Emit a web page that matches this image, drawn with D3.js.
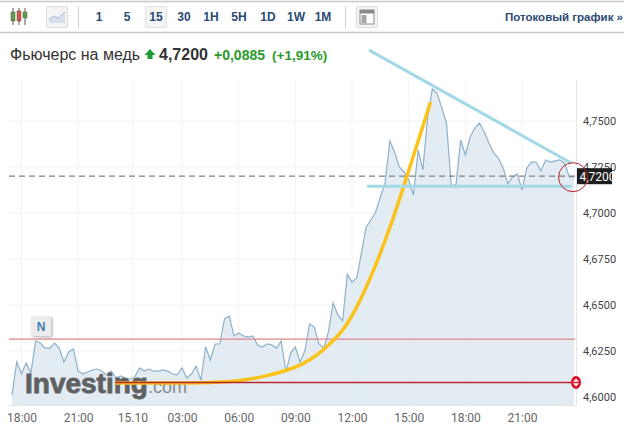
<!DOCTYPE html>
<html>
<head>
<meta charset="utf-8">
<script src="https://cdnjs.cloudflare.com/ajax/libs/d3/7.8.5/d3.min.js"></script>
<style>
  html, body { margin: 0; padding: 0; background: #fff; }
  svg { display: block; font-family: "Liberation Sans", Arial, sans-serif; }
  .tick text { font-family: Roboto, sans-serif; }
</style>
</head>
<body>
<div id="chart"></div>
<script>
// copper price, one value per 15 min bar
const prices = [
  4.6011, 4.6190, 4.6125, 4.6185, 4.6130, 4.6304, 4.6293, 4.6266, 4.6266, 4.6293,
  4.6266, 4.6190, 4.6245, 4.6261, 4.6141, 4.6125, 4.6136, 4.6147, 4.6152, 4.6141,
  4.6120, 4.6141, 4.6103, 4.6114, 4.6103, 4.6098, 4.6109, 4.6158, 4.6141, 4.6152,
  4.6141, 4.6141, 4.6147, 4.6141, 4.6125, 4.6120, 4.6158, 4.6103, 4.6125, 4.6168,
  4.6092, 4.6272, 4.6201, 4.6288, 4.6288, 4.6424, 4.6440, 4.6332, 4.6348, 4.6332,
  4.6326, 4.6332, 4.6283, 4.6272, 4.6288, 4.6283, 4.6266, 4.6304, 4.6136, 4.6239,
  4.6272, 4.6190, 4.6250, 4.6397, 4.6380, 4.6288, 4.6266, 4.6353, 4.6511, 4.6446,
  4.6413, 4.6668, 4.6625, 4.6647, 4.6783, 4.6924, 4.6962, 4.7005, 4.7087, 4.7163,
  4.7391, 4.7332, 4.7250, 4.7223, 4.7179, 4.7098, 4.7342, 4.7234, 4.7521, 4.7674,
  4.7652, 4.7571, 4.7489, 4.7152, 4.7152, 4.7397, 4.7315, 4.7413, 4.7462, 4.7489,
  4.7440, 4.7380, 4.7326, 4.7299, 4.7245, 4.7158, 4.7196, 4.7212, 4.7125, 4.7245,
  4.7277, 4.7277, 4.7228, 4.7288, 4.7277, 4.7283, 4.7288, 4.7272, 4.7196, 4.7196
];

const xTickIndex = [2, 14, 25.5, 36, 48, 60, 72, 84, 96, 108];
const xTickLabels = ["18:00", "21:00", "15.10", "03:00", "06:00", "09:00", "12:00", "15:00", "18:00", "21:00"];
const yTicks = [4.6, 4.625, 4.65, 4.675, 4.7, 4.725, 4.75];

const lastPrice = 4.72;
const pinkLevel = 4.6315;
const redLevel = 4.6079;
const redStart = 21.8;

// hand drawn stuff on top of the chart
const curveIndex = [21.8, 31.4, 39.8, 48.3, 53.2, 60, 63.1, 65.9, 68.9, 71, 73.1, 76.5, 80.1, 82.2, 85, 88.6];
const curveValue = [4.6076, 4.6076, 4.6076, 4.6087, 4.6109, 4.6157, 4.6201, 4.6255, 4.6326, 4.6396, 4.6489, 4.6679, 4.6923, 4.7086, 4.7309, 4.7602];
const trendIndex = [75.6, 118.4];
const trendValue = [4.7885, 4.7272];
const supportIndex = [75.2, 118.6];
const supportValue = [4.7146, 4.7146];

const timeframes = ["1", "5", "15", "30", "1H", "5H", "1D", "1W", "1M"];
const timeframeCenters = [99, 127, 156, 184, 211, 239, 268, 296, 323];

const width = 624, height = 432;
const plot = {left: 9, right: 576, top: 80, bottom: 405};

const svg = d3.select("#chart").append("svg")
  .attr("width", width)
  .attr("height", height);

const defs = svg.append("defs");
defs.append("clipPath").attr("id", "plot-clip").append("rect")
  .attr("x", plot.left).attr("y", plot.top)
  .attr("width", plot.right - plot.left).attr("height", plot.bottom - plot.top);
const blur = defs.append("filter").attr("id", "shadow")
  .attr("x", "-30%").attr("y", "-30%").attr("width", "170%").attr("height", "170%");
blur.append("feDropShadow").attr("dx", 1.5).attr("dy", 1.5).attr("stdDeviation", 1.5)
  .attr("flood-color", "#888").attr("flood-opacity", 0.6);

// scales
const xScale = d3.scaleLinear().domain([0, 119]).range([12, 574]);
const yScale = d3.scaleLinear().domain([4.6, 4.75]).range([397, 121]);

// header
const header = svg.append("g");
header.append("line").attr("x1", 0).attr("x2", width).attr("y1", 1.5).attr("y2", 1.5)
  .attr("stroke", "#c8c8c8").attr("stroke-width", 1.5);
header.append("line").attr("x1", 0).attr("x2", width).attr("y1", 32.5).attr("y2", 32.5)
  .attr("stroke", "#c8c8c8").attr("stroke-width", 1.5);

// candle icon
const candleColors = ["#5f9e4a", "#d9534f", "#5f9e4a"];
const candleX = [13, 19, 25];
const candleY = [12, 11, 12];
const candleH = [9, 10, 6];
candleX.forEach(function(cx, i) {
  header.append("line").attr("x1", cx).attr("x2", cx).attr("y1", 8).attr("y2", 25)
    .attr("stroke", "#5a5a4a");
  header.append("rect").attr("x", cx - 2).attr("y", candleY[i]).attr("width", 4).attr("height", candleH[i])
    .attr("fill", candleColors[i]).attr("stroke", "#5a5a4a").attr("stroke-width", 0.5);
});

// area chart button
header.append("rect").attr("x", 46.5).attr("y", 6.5).attr("width", 21).attr("height", 21).attr("rx", 1.5)
  .attr("fill", "#f4f4f4").attr("stroke", "#dcdcdc");
header.append("path").attr("d", "M49,23 L49,19 L54,16 L58,18 L65,12 L65,23 Z")
  .attr("fill", "#d5dfeb").attr("stroke", "none");
header.append("path").attr("d", "M49,19 L54,16 L58,18 L65,12")
  .attr("fill", "none").attr("stroke", "#a9bdd4");

header.append("line").attr("x1", 78.5).attr("x2", 78.5).attr("y1", 6).attr("y2", 28).attr("stroke", "#d0d0d0");
header.append("line").attr("x1", 345.5).attr("x2", 345.5).attr("y1", 6).attr("y2", 28).attr("stroke", "#d0d0d0");

// active timeframe
header.append("rect").attr("x", 145.5).attr("y", 6.5).attr("width", 21).attr("height", 21).attr("rx", 1.5)
  .attr("fill", "#f4f4f4").attr("stroke", "#e2e2e2");

header.selectAll(".tf")
  .data(timeframes)
  .enter()
  .append("text")
    .attr("class", "tf")
    .attr("x", function(d, i) { return timeframeCenters[i]; })
    .attr("y", 21)
    .attr("text-anchor", "middle")
    .attr("font-size", 12)
    .attr("font-weight", "bold")
    .attr("fill", "#2a4b73")
    .text(function(d) { return d; });

// layout icon
header.append("rect").attr("x", 356.5).attr("y", 6.5).attr("width", 21).attr("height", 21).attr("rx", 1.5)
  .attr("fill", "#f4f4f4").attr("stroke", "#dcdcdc");
header.append("rect").attr("x", 360).attr("y", 10).attr("width", 14).attr("height", 14)
  .attr("fill", "#fff").attr("stroke", "#8a8a8a");
header.append("rect").attr("x", 360).attr("y", 10).attr("width", 14).attr("height", 3.5).attr("fill", "#8a8a8a");
header.append("rect").attr("x", 361.5).attr("y", 15).attr("width", 5).attr("height", 8).attr("fill", "#a5a5a5");

header.append("text")
  .attr("x", 505).attr("y", 21)
  .attr("font-size", 11.5).attr("font-weight", "bold").attr("fill", "#2a4b73")
  .text("Потоковый график »");

// title row
svg.append("text").attr("x", 10).attr("y", 60)
  .attr("font-size", 16).attr("fill", "#333").text("Фьючерс на медь");
svg.append("path").attr("d", "M150,49 L155.5,55 L152.5,55 L152.5,59 L147.5,59 L147.5,55 L144.5,55 Z")
  .attr("fill", "#1e9b32");
svg.append("text").attr("x", 159).attr("y", 60)
  .attr("font-size", 16).attr("font-weight", "bold").attr("fill", "#333").text("4,7200");
svg.append("text").attr("x", 214).attr("y", 59.5)
  .attr("font-size", 14).attr("font-weight", "bold").attr("fill", "#2a9a2a").text("+0,0885");
svg.append("text").attr("x", 272).attr("y", 59.5)
  .attr("font-size", 13.5).attr("font-weight", "bold").attr("fill", "#2a9a2a").text("(+1,91%)");

// grid
const grid = svg.append("g");
grid.selectAll(".gy").data(yTicks).enter().append("line")
  .attr("x1", plot.left).attr("x2", plot.right)
  .attr("y1", function(d) { return yScale(d); })
  .attr("y2", function(d) { return yScale(d); })
  .attr("stroke", "#f1f3f5");
grid.selectAll(".gx").data(xTickIndex).enter().append("line")
  .attr("x1", function(d) { return xScale(d); })
  .attr("x2", function(d) { return xScale(d); })
  .attr("y1", plot.top).attr("y2", plot.bottom)
  .attr("stroke", "#f1f3f5");

// area and line
const chart = svg.append("g").attr("clip-path", "url(#plot-clip)");
chart.append("path")
  .datum(prices)
  .attr("fill", "#dfe9f1")
  .attr("fill-opacity", 0.88)
  .attr("d", d3.area()
    .x(function(d, i) { return xScale(i); })
    .y0(plot.bottom)
    .y1(function(d) { return yScale(d); }));
chart.append("path")
  .datum(prices)
  .attr("fill", "none")
  .attr("stroke", "#8fb0c9")
  .attr("stroke-width", 1.2)
  .attr("d", d3.line()
    .x(function(d, i) { return xScale(i); })
    .y(function(d) { return yScale(d); }));

// axes
const comma = d3.formatLocale({decimal: ",", thousands: " ", grouping: [3], currency: ["", ""]}).format(".4f");
const yAxis = svg.append("g")
  .attr("transform", "translate(" + (plot.right + 1) + ",0)")
  .call(d3.axisRight(yScale).tickValues(yTicks).tickFormat(comma).tickSize(0).tickPadding(6));
yAxis.select(".domain").remove();
yAxis.selectAll("text").attr("font-size", 11).attr("fill", "#444");
svg.append("line")
  .attr("x1", plot.right + 0.5).attr("x2", plot.right + 0.5)
  .attr("y1", plot.top).attr("y2", plot.bottom)
  .attr("stroke", "#e6e6e6");

const xAxis = svg.append("g")
  .attr("transform", "translate(0," + plot.bottom + ")")
  .call(d3.axisBottom(xScale).tickValues(xTickIndex)
    .tickFormat(function(d, i) { return xTickLabels[i]; }).tickSize(0).tickPadding(8));
xAxis.select(".domain").attr("stroke", "#e6e6e6").attr("d", "M9,0.5H576");
xAxis.selectAll("text").attr("font-size", 12).attr("fill", "#666");

// logo
const logo = svg.append("text")
  .attr("x", 25).attr("y", 393);
logo.append("tspan")
  .attr("font-size", 28).attr("font-weight", "bold")
  .attr("fill", "#5f6163").attr("stroke", "#5f6163").attr("stroke-width", 0.8)
  .text("Investing");
logo.append("tspan")
  .attr("font-size", 18).attr("fill", "#85888b")
  .text(".com");

// levels
svg.append("line")
  .attr("x1", plot.left).attr("x2", plot.right - 1)
  .attr("y1", yScale(pinkLevel)).attr("y2", yScale(pinkLevel))
  .attr("stroke", "#e0848c").attr("stroke-width", 1.2);
svg.append("line")
  .attr("x1", plot.left).attr("x2", plot.right)
  .attr("y1", yScale(lastPrice)).attr("y2", yScale(lastPrice))
  .attr("stroke", "#808080").attr("stroke-width", 1.2).attr("stroke-dasharray", "6,4");

// yellow curve
svg.append("path")
  .datum(curveIndex)
  .attr("fill", "none")
  .attr("stroke", "#fbc21a")
  .attr("stroke-width", 3.5)
  .attr("d", d3.line().curve(d3.curveBasis)
    .x(function(d) { return xScale(d); })
    .y(function(d, i) { return yScale(curveValue[i]); }));

// red level over the curve
svg.append("line")
  .attr("x1", xScale(redStart)).attr("x2", plot.right)
  .attr("y1", yScale(redLevel)).attr("y2", yScale(redLevel))
  .attr("stroke", "#b9252b").attr("stroke-width", 1.4);

// trend lines
const trendLine = d3.line()
  .x(function(d) { return xScale(d[0]); })
  .y(function(d) { return yScale(d[1]); });
svg.append("path")
  .datum(d3.zip(trendIndex, trendValue))
  .attr("fill", "none").attr("stroke", "#a3d8e6").attr("stroke-width", 3)
  .attr("d", trendLine);
svg.append("path")
  .datum(d3.zip(supportIndex, supportValue))
  .attr("fill", "none").attr("stroke", "#a3d8e6").attr("stroke-width", 3)
  .attr("d", trendLine);

// red handle on the level
const handleY = yScale(redLevel);
svg.append("ellipse")
  .attr("cx", plot.right).attr("cy", handleY)
  .attr("rx", 5).attr("ry", 6.5)
  .attr("fill", "#dc1428");
svg.append("path")
  .attr("d", "M" + plot.right + "," + (handleY - 4) + "l3,3.2h-6z M" + plot.right + "," + (handleY + 4) + "l3,-3.2h-6z")
  .attr("fill", "#fff");

// last price label
svg.append("rect")
  .attr("x", 577).attr("y", yScale(lastPrice) - 8)
  .attr("width", 35).attr("height", 16)
  .attr("fill", "#1e1e1e");
svg.append("text")
  .attr("x", 579.5).attr("y", yScale(lastPrice) + 4.5)
  .attr("font-family", "Roboto, sans-serif")
  .attr("font-size", 12).attr("fill", "#fff")
  .text(comma(lastPrice));

// hand drawn circle
svg.append("circle")
  .attr("cx", xScale(118.8)).attr("cy", yScale(lastPrice) + 1)
  .attr("r", 14.5)
  .attr("fill", "none").attr("stroke", "#b8202c").attr("stroke-width", 1);

// news marker
svg.append("rect")
  .attr("x", 31).attr("y", 316)
  .attr("width", 20).attr("height", 20).attr("rx", 1)
  .attr("fill", "#ececec")
  .attr("filter", "url(#shadow)");
svg.append("text")
  .attr("x", 41).attr("y", 331)
  .attr("text-anchor", "middle")
  .attr("font-size", 12).attr("font-weight", "bold").attr("fill", "#3d7eb5")
  .text("N");
</script>
</body>
</html>
